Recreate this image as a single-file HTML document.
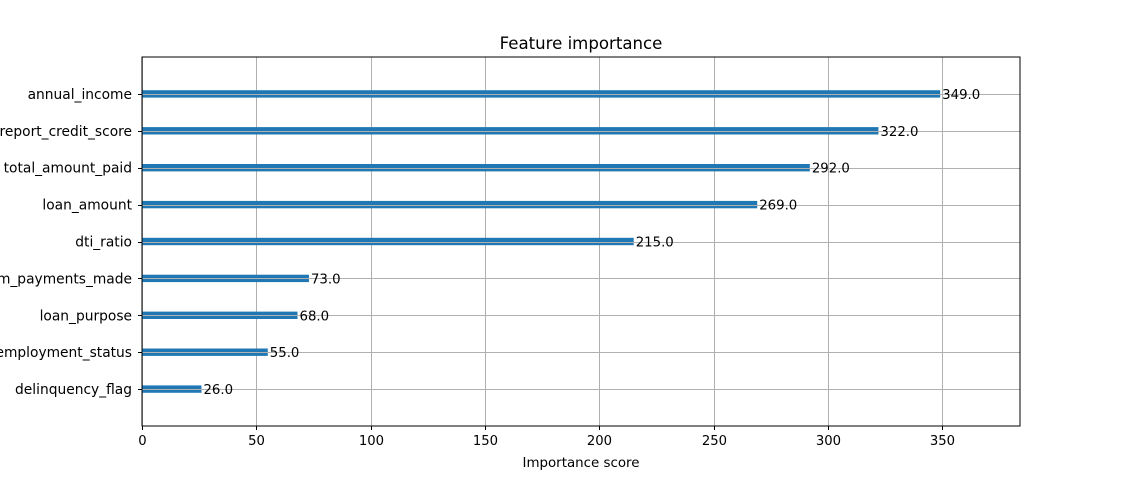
<!DOCTYPE html>
<html><head><meta charset="utf-8"><style>
html,body{margin:0;padding:0;background:#fff;}
svg{display:block;font-family:"DejaVu Sans","Liberation Sans",sans-serif;}
</style></head><body>
<svg id="chart" width="1133" height="479" viewBox="0 0 1133 479" xmlns="http://www.w3.org/2000/svg">
<rect width="1133" height="479" fill="#fff"/>
<text x="581" y="49" text-anchor="middle" font-size="16.6">Feature importance</text>
<g id="grid"></g>
<g id="bars"></g>
<g id="hgrid"></g>
<g id="vals"></g>
<rect x="142" y="57" width="878" height="369" fill="none" stroke="#000" stroke-width="1"/>
<g id="xticks"></g>
<g id="yticks"></g>
<text x="581" y="467" text-anchor="middle" font-size="13.4">Importance score</text>
</svg>
<script>
const features = ["delinquency_flag","employment_status","loan_purpose","num_payments_made","dti_ratio","loan_amount","total_amount_paid","credit_report_credit_score","annual_income"];
const scores = [26,55,68,73,215,269,292,322,349];
const xTicks = [0,50,100,150,200,250,300,350];
const NS="http://www.w3.org/2000/svg";
const L=142,R=1020,T=57,B=426;
const xMax=Math.max(...scores)*1.1;
const xs=v=>L+v/xMax*(R-L);
const yMin=-1,yMax=features.length;
const ys=i=>B-(i-yMin)/(yMax-yMin)*(B-T);
function mk(tag,attrs,parent,txt){const e=document.createElementNS(NS,tag);for(const k in attrs)e.setAttribute(k,attrs[k]);if(txt!==undefined)e.textContent=txt;document.getElementById(parent).appendChild(e);return e;}
xTicks.forEach(t=>{
  const x=Math.round(xs(t))+0.5;
  const g=mk('line',{x1:x,x2:x,y1:T,y2:B,stroke:'#b0b0b0','stroke-width':1},'grid');
  
  
  const tk=mk('line',{x1:x,x2:x,y1:B,y2:B+4,stroke:'#000'},'xticks');
  
  
  const lb=mk('text',{x:x,y:B+19,'text-anchor':'middle','font-size':13.2},'xticks',String(t));
  
  
});
features.forEach((f,i)=>{
  const y=ys(i);
  const h=(ys(0)-ys(0.2));
  const b=mk('rect',{x:L,y:y-h/2,width:xs(scores[i])-L,height:h,fill:'#1f77b4'},'bars');
  
  
  const gl=mk('line',{x1:L,x2:R,y1:Math.round(y)+0.5,y2:Math.round(y)+0.5,stroke:'#b0b0b0','stroke-width':1},'hgrid');
  
  
  const v=mk('text',{x:xs(scores[i])+2,y:y+5,'font-size':13.3},'vals',scores[i].toFixed(1));
  
  
  const tk=mk('line',{x1:L-4,x2:L,y1:Math.round(y)+0.5,y2:Math.round(y)+0.5,stroke:'#000'},'yticks');
  
  
  const lb=mk('text',{x:L-10,y:y+5,'text-anchor':'end','font-size':13.8},'yticks',f);
  
  
});
</script>
</body></html>
